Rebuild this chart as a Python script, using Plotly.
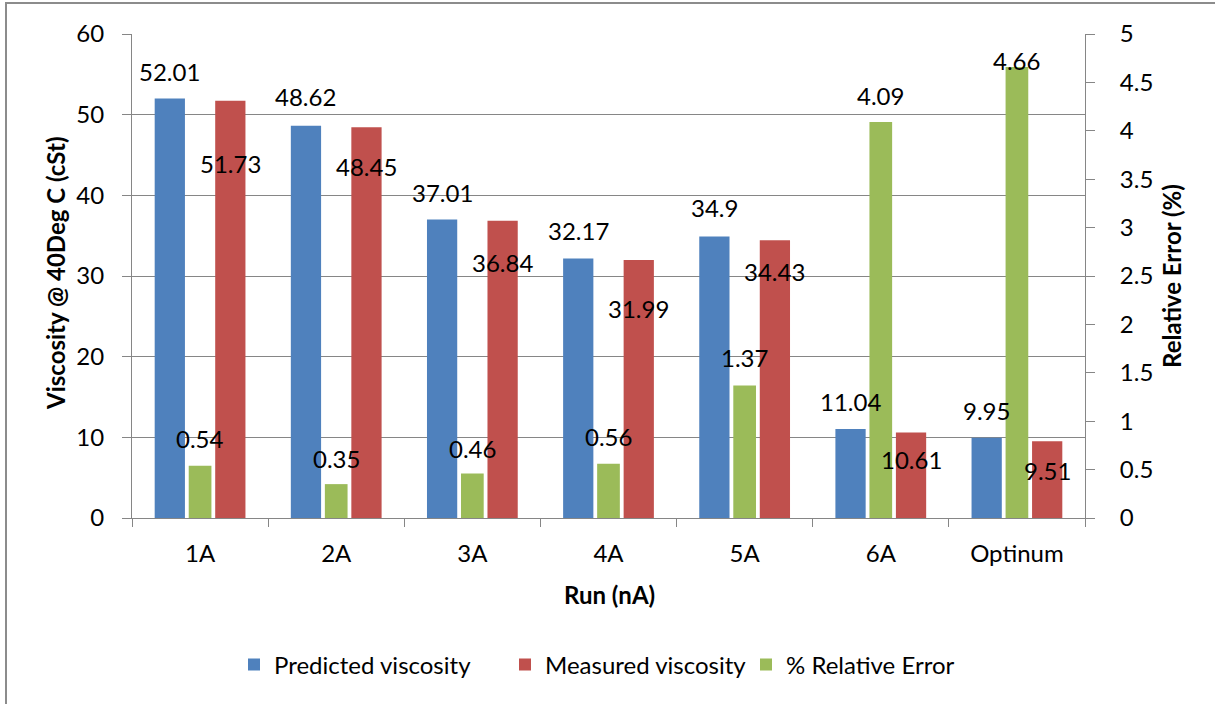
import plotly.graph_objects as go

# Viscosity runs: predicted vs measured, with relative error on a second axis
runs = ["1A", "2A", "3A", "4A", "5A", "6A", "Optinum"]
predicted_viscosity = [52.01, 48.62, 37.01, 32.17, 34.9, 11.04, 9.95]
measured_viscosity = [51.73, 48.45, 36.84, 31.99, 34.43, 10.61, 9.51]
relative_error = [0.54, 0.35, 0.46, 0.56, 1.37, 4.09, 4.66]

# data-label pixel shifts (positive = above the bar top)
pred_label_shift = [27, 29, 27, 28, 29, 27, 27]
meas_label_shift = [-63, -39, -42, -49, -31, -27, -29]
err_label_shift = [27, 26, 25, 27, 28, 27, 6]

BLUE = "#4F81BD"
RED = "#C0504D"
GREEN = "#9BBB59"
GRID = "#868686"
FONT = "Lato"
FS = 24

# bar geometry in category units
w_main = 1 / 4.5
off_pred = -1.5 * w_main
off_meas = 0.5 * w_main
w_err = 1 / 6
off_err = -w_err / 2

fig = go.Figure()
fig.add_trace(go.Bar(name="Predicted viscosity", x=runs, y=predicted_viscosity, legend="legend",
                     width=w_main, offset=off_pred, marker=dict(color=BLUE, line=dict(width=0))))
fig.add_trace(go.Bar(name="Measured viscosity", x=runs, y=measured_viscosity, legend="legend2",
                     width=w_main, offset=off_meas, marker=dict(color=RED, line=dict(width=0))))
fig.add_trace(go.Bar(name="% Relative Error", x=runs, y=relative_error, yaxis="y2", legend="legend3",
                     width=w_err, offset=off_err, marker=dict(color=GREEN, line=dict(width=0))))


def fmt(v):
    return f"{v:g}"


annotations = []
for i in range(len(runs)):
    annotations.append(dict(x=i + off_pred + w_main / 2, y=predicted_viscosity[i], xref="x", yref="y",
                            text=fmt(predicted_viscosity[i]), showarrow=False,
                            yshift=pred_label_shift[i], yanchor="middle"))
    annotations.append(dict(x=i + off_meas + w_main / 2, y=measured_viscosity[i], xref="x", yref="y",
                            text=fmt(measured_viscosity[i]), showarrow=False,
                            yshift=meas_label_shift[i], yanchor="middle"))
    annotations.append(dict(x=i, y=relative_error[i], xref="x", yref="y2",
                            text=fmt(relative_error[i]), showarrow=False,
                            yshift=err_label_shift[i], yanchor="middle"))

# plot area in pixels
L, R, T, B = 132, 1085, 34, 518
W, H = 1215, 704
pw, ph = R - L, B - T


def px(x):
    return (x - L) / pw


def py(y):
    return (B - y) / ph


title_font = dict(family=FONT, size=FS, color="black", weight="bold")
annotations += [
    dict(x=px(55), y=py(273), xref="paper", yref="paper", text="Viscosity @ 40Deg C (cSt)",
         textangle=-90, showarrow=False, font=title_font, xanchor="center", yanchor="middle"),
    dict(x=px(1171), y=py(276), xref="paper", yref="paper", text="Relative Error (%)",
         textangle=-90, showarrow=False, font=title_font, xanchor="center", yanchor="middle"),
    dict(x=px(609), y=py(594), xref="paper", yref="paper", text="Run (nA)",
         showarrow=False, font=title_font, xanchor="center", yanchor="middle"),
]


def legend_at(left_px):
    return dict(orientation="h", x=px(left_px), y=py(665), xanchor="left", yanchor="middle",
                font=dict(family=FONT, size=FS), bgcolor="rgba(0,0,0,0)")


fig.update_layout(
    width=W, height=H,
    margin=dict(l=L, r=W - R, t=T, b=H - B, pad=0),
    paper_bgcolor="white", plot_bgcolor="white",
    barmode="overlay",
    font=dict(family=FONT, size=FS, color="black"),
    annotations=annotations,
    showlegend=True,
    legend=legend_at(248 - 14),
    legend2=legend_at(519 - 14),
    legend3=legend_at(760 - 14),
    xaxis=dict(type="category", tickson="boundaries", ticks="outside", ticklen=8,
               tickcolor=GRID, showline=True, linecolor=GRID, linewidth=1, showgrid=False,
               ticklabelstandoff=14, tickfont=dict(size=FS)),
    yaxis=dict(range=[0, 60], dtick=10, ticks="outside", ticklen=9, tickcolor=GRID,
               showline=True, linecolor=GRID, linewidth=1, showgrid=True, gridcolor=GRID,
               gridwidth=1, zeroline=False, ticklabelstandoff=13, tickfont=dict(size=FS)),
    yaxis2=dict(range=[0, 5], dtick=0.5, overlaying="y", side="right", ticks="outside",
                ticklen=9, tickcolor=GRID, showline=True, linecolor=GRID, linewidth=1,
                showgrid=False, zeroline=False, ticklabelstandoff=20, tickfont=dict(size=FS)),
    shapes=[dict(type="rect", xref="paper", yref="paper",
                 x0=px(6), x1=px(W + 20), y0=py(H + 20), y1=py(3),
                 line=dict(color="#8C8C8C", width=2), fillcolor="rgba(0,0,0,0)", layer="below")],
)

fig.write_html("out.html")
